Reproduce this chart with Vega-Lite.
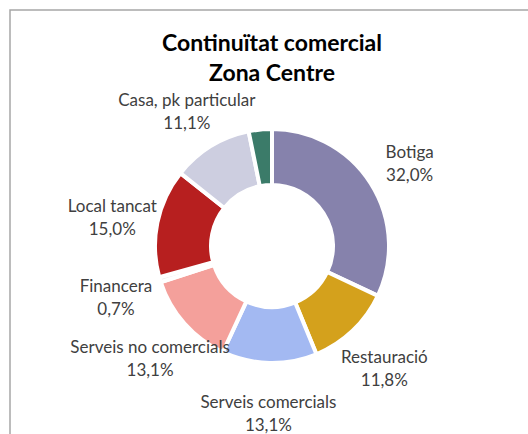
{
  "$schema": "https://vega.github.io/schema/vega-lite/v6.json",
  "autosize": "none",
  "padding": {"left": 10, "top": 10, "right": 0, "bottom": 0},
  "width": 524,
  "height": 472,
  "background": "white",
  "view": {"stroke": "#a6a6a6", "strokeWidth": 1.5},
  "config": {"view": {"stroke": "#a6a6a6", "strokeWidth": 1.5}},
  "title": {
    "text": ["Continuïtat comercial", "Zona Centre"],
    "font": "Lato",
    "fontSize": 23,
    "fontWeight": "bold",
    "color": "#000000",
    "lineHeight": 30,
    "anchor": "middle",
    "dy": 80
  },
  "data": {
    "values": [
      {"n": 1, "category": "Botiga", "value": 32.0, "label": "Botiga\n32,0%"},
      {"n": 2, "category": "Restauració", "value": 11.8, "label": "Restauració\n11,8%"},
      {"n": 3, "category": "Serveis comercials", "value": 13.1, "label": "Serveis comercials\n13,1%"},
      {"n": 4, "category": "Serveis no comercials", "value": 13.1, "label": "Serveis no comercials\n13,1%"},
      {"n": 5, "category": "Financera", "value": 0.7, "label": "Financera\n0,7%"},
      {"n": 6, "category": "Local tancat", "value": 15.0, "label": "Local tancat\n15,0%"},
      {"n": 7, "category": "Casa, pk particular", "value": 11.1, "label": "Casa, pk particular\n11,1%"},
      {"n": 8, "category": "Altres", "value": 3.2, "label": ""}
    ]
  },
  "layer": [
    {
      "mark": {"type": "arc", "innerRadius": 61, "outerRadius": 117, "stroke": "white", "strokeWidth": 4},
      "encoding": {
        "theta": {"field": "value", "type": "quantitative", "stack": true},
        "order": {"field": "n", "type": "quantitative"},
        "color": {
          "field": "category",
          "type": "nominal",
          "legend": null,
          "scale": {
            "domain": ["Botiga", "Restauració", "Serveis comercials", "Serveis no comercials", "Financera", "Local tancat", "Casa, pk particular", "Altres"],
            "range": ["#8682AC", "#D4A11C", "#A3B9F2", "#F4A09B", "#EFEFEF", "#B71F1F", "#CDCEE0", "#3B7B69"]
          }
        }
      }
    },
    {
      "mark": {"type": "text", "radius": 163, "dy": -6, "font": "Lato", "fontSize": 17, "color": "#404040", "lineBreak": "\n", "lineHeight": 23, "baseline": "middle"},
      "encoding": {
        "theta": {"field": "value", "type": "quantitative", "stack": true},
        "order": {"field": "n", "type": "quantitative"},
        "text": {"field": "label", "type": "nominal"}
      }
    }
  ]
}
